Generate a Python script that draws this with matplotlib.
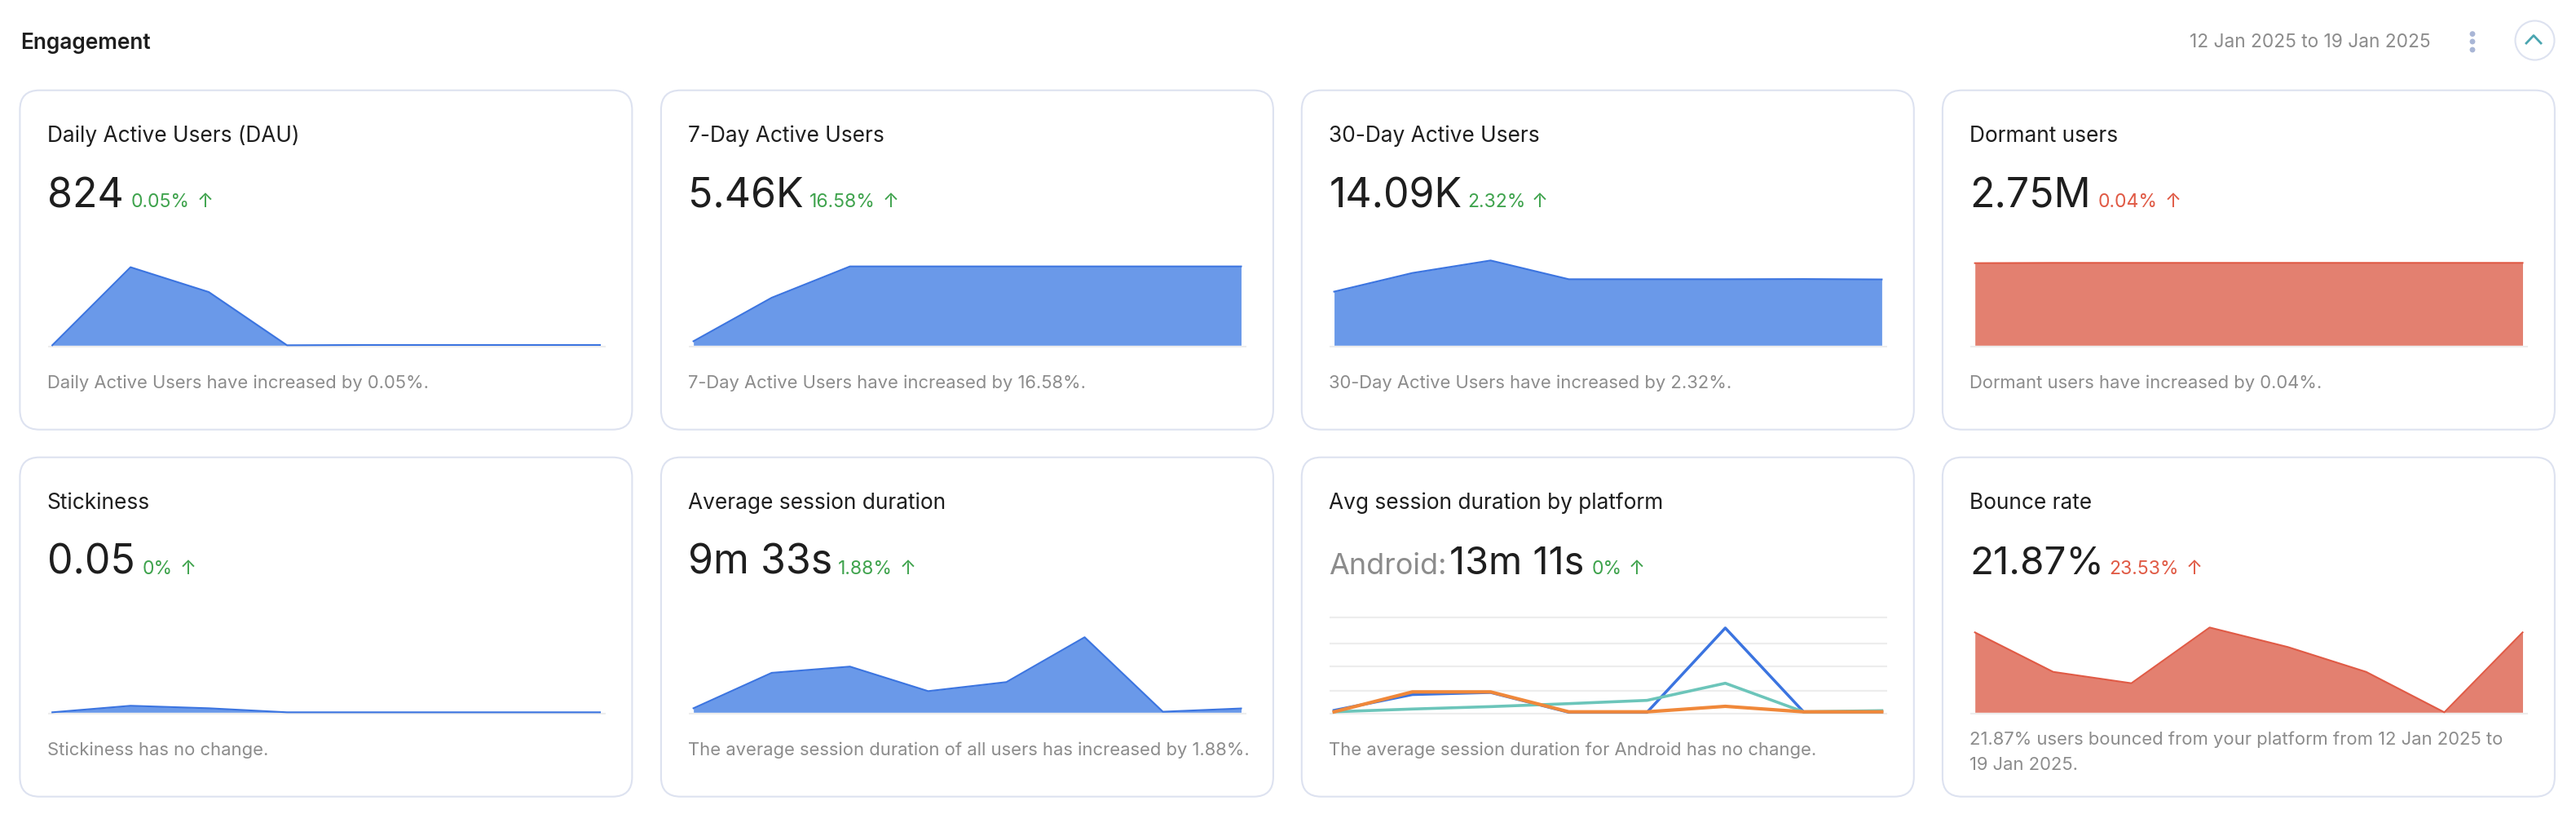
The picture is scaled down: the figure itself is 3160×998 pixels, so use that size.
#!/usr/bin/env python3
"""Engagement dashboard cards, drawn on a pixel grid of 3160x998."""

import matplotlib
matplotlib.use("Agg")
import matplotlib.pyplot as plt
from matplotlib.patches import FancyBboxPatch, Circle

plt.rcParams['font.family'] = ['Inter', 'DejaVu Sans']

# Chart data (height in percent of the plot area)
titles = ["Daily Active Users (DAU)", "7-Day Active Users", "30-Day Active Users", "Dormant users",
          "Stickiness", "Average session duration", "Avg session duration by platform", "Bounce rate"]
values = ["824", "5.46K", "14.09K", "2.75M", "0.05", "9m 33s", "13m 11s", "21.87%"]
changes = ["0.05%", "16.58%", "2.32%", "0.04%", "0%", "1.88%", "0%", "23.53%"]
notes = ["Daily Active Users have increased by 0.05%.",
         "7-Day Active Users have increased by 16.58%.",
         "30-Day Active Users have increased by 2.32%.",
         "Dormant users have increased by 0.04%.",
         "Stickiness has no change.",
         "The average session duration of all users has increased by 1.88%.",
         "The average session duration for Android has no change.",
         "21.87% users bounced from your platform from 12 Jan 2025 to\n19 Jan 2025."]

dau = [0, 81.1, 55.3, 0, 0.3, 0.3, 0.3, 0.3]
seven_day = [4.2, 49.4, 81.9, 81.9, 81.9, 81.9, 81.9, 81.9]
thirty_day = [55.7, 75.1, 88.1, 68.6, 68.6, 68.6, 68.8, 68.4]
dormant = [85.3, 85.6, 85.6, 85.6, 85.6, 85.6, 85.6, 85.6]
stickiness = [0, 6.8, 4.2, 0, 0, 0, 0, 0]
avg_session = [4.2, 41, 47.5, 22, 31.4, 78, 0.6, 4]
bounce = [83, 42, 30.2, 88.1, 67.8, 42, 0, 83]

platform_a = [2, 18.4, 20.6, 0, 0, 87.6, 0.5, 0.5]
platform_b = [0.5, 3.4, 5.9, 9, 12.4, 30.2, 0.5, 1.7]
platform_c = [0.5, 21.2, 21.2, 0.5, 0.5, 6.2, 0.5, 0.5]
platform_grid = [98.9, 71.8, 48, 22.6]

# Layout in pixels
W, H = 3160, 998
card_lefts = [24.4, 810.9, 1596.8, 2382.9]
card_tops = [110.7, 560.7]
card_w, card_h = 751, 416
value_px = [50, 50, 50, 50, 50, 50, 47, 47.5]
change_dx = [136.4, 181.6, 203, 190.8, 150.6, 216.8, 355.7, 204.6]
arrow_dx = [227, 281.4, 292.1, 283, 206, 302.3, 410.7, 308.4]

BLUE, BLUE_FILL = "#3B74E0", "#6A99E9"
RED, RED_FILL = "#E05A45", "#E38070"
GREEN = "#3FA34D"
TEAL, ORANGE = "#6CC5BA", "#F0883A"
INK, GREY = "#1E1E1E", "#8C8C8C"
BORDER, BASELINE = "#DDE2F0", "#EDEDED"


def px(size):
    """Font size in points for a size given in pixels at dpi 100."""
    return size * 0.72


def add_plot(left, top):
    # plot area spans 118 px above the line base, with 2 px kept for the axis below it
    base = top + 312.6
    ax = fig.add_axes([(left + 34.2) / W, 1 - (base + 2.2) / H, 684 / W, 120.2 / H])
    ax.set_xlim(-0.058, 7.069)
    ax.set_ylim(-1.86, 100)
    ax.axis("off")
    ax.axhline(-1.1, color=BASELINE, linewidth=1.6, zorder=1)
    return ax


def draw_area(left, top, series, line_color, fill_color):
    ax = add_plot(left, top)
    xs = range(len(series))
    ax.fill_between(xs, series, 0, color=fill_color, linewidth=0, zorder=2)
    ax.plot(xs, series, color=line_color, linewidth=1.5, zorder=3)
    return ax


fig = plt.figure(figsize=(W / 100, H / 100), dpi=100, facecolor="white")
page = fig.add_axes([0, 0, 1, 1])
page.set_xlim(0, W)
page.set_ylim(H, 0)
page.axis("off")

# Header
page.text(25, 60, "Engagement", fontsize=px(26.3), fontweight="semibold", color=INK)
page.text(2982, 58, "12 Jan 2025 to 19 Jan 2025", fontsize=px(22.7), color=GREY, ha="right")
for dot_y in [41.6, 51, 61]:
    page.add_patch(Circle((3033, dot_y), 3.4, color="#A9B6D6", linewidth=0))
page.add_patch(Circle((3109.5, 49.5), 24, facecolor="white", edgecolor=BORDER, linewidth=1.5))
page.plot([3099, 3108, 3117], [53, 43.5, 53], color="#4AA5B0", linewidth=2)

# Cards
for i in range(8):
    left = card_lefts[i % 4]
    top = card_tops[i // 4]
    page.add_patch(FancyBboxPatch((left, top), card_w, card_h,
                                  boxstyle="round,pad=0,rounding_size=24",
                                  facecolor="white", edgecolor=BORDER, linewidth=1.5))
    text_x = left + 33.5
    accent = RED if i in (3, 7) else GREEN
    page.text(text_x, top + 63, titles[i], fontsize=px(26.3), color=INK)
    if i == 6:
        page.text(text_x, top + 143.3, "Android:", fontsize=px(36), color=GREY)
        page.text(left + 180.7, top + 143.3, values[i], fontsize=px(value_px[i]), color=INK)
    else:
        page.text(text_x, top + 143.3, values[i], fontsize=px(value_px[i]), color=INK)
    page.text(left + change_dx[i], top + 143.3, changes[i], fontsize=px(23), color=accent)
    page.text(left + arrow_dx[i], top + 143.3, "↑", fontsize=px(24), color=accent, ha="center")
    if i == 7:
        page.text(text_x, top + 383, notes[i], fontsize=px(22), color=GREY, linespacing=1.65)
    else:
        page.text(text_x, top + 365, notes[i], fontsize=px(22), color=GREY)

# Charts
draw_area(card_lefts[0], card_tops[0], dau, BLUE, BLUE_FILL)
draw_area(card_lefts[1], card_tops[0], seven_day, BLUE, BLUE_FILL)
draw_area(card_lefts[2], card_tops[0], thirty_day, BLUE, BLUE_FILL)
draw_area(card_lefts[3], card_tops[0], dormant, RED, RED_FILL)
draw_area(card_lefts[0], card_tops[1], stickiness, BLUE, BLUE_FILL)
draw_area(card_lefts[1], card_tops[1], avg_session, BLUE, BLUE_FILL)
draw_area(card_lefts[3], card_tops[1], bounce, RED, RED_FILL)

ax = add_plot(card_lefts[2], card_tops[1])
for level in platform_grid:
    ax.axhline(level, color=BASELINE, linewidth=1.6, zorder=1)
xs = range(len(platform_a))
ax.plot(xs, platform_a, color=BLUE, linewidth=2.5, zorder=3)
ax.plot(xs, platform_b, color=TEAL, linewidth=2.6, zorder=4)
ax.plot(xs, platform_c, color=ORANGE, linewidth=3.0, zorder=5)

fig.savefig("out.png", dpi=100)
